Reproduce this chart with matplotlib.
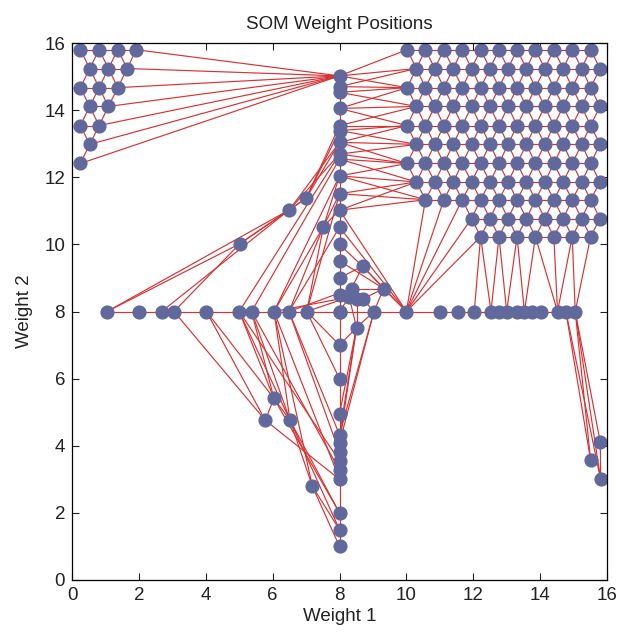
import matplotlib
matplotlib.use("Agg")
import matplotlib.pyplot as plt
import numpy as np

# ---------------- data: SOM weight positions ----------------
# top-left triangular cluster: row y levels and x positions in each row
tri_y = [15.80, 15.24, 14.67, 14.11, 13.54, 12.98, 12.41]
tri_x = [[0.25, 0.81, 1.37, 1.92],
         [0.53, 1.09, 1.65],
         [0.25, 0.81, 1.37],
         [0.53, 1.09],
         [0.25, 0.81],
         [0.53],
         [0.25]]

# top-right hexagonal cluster
grid_y = [15.80, 15.24, 14.67, 14.11, 13.54, 12.98, 12.41, 11.86, 11.33, 10.77, 10.23]
grid_x = [[10.02, 10.57, 11.12, 11.67, 12.22, 12.77, 13.31, 13.86, 14.41, 14.96, 15.51],
          [10.30, 10.85, 11.40, 11.95, 12.50, 13.04, 13.59, 14.14, 14.69, 15.24, 15.79],
          [10.02, 10.57, 11.12, 11.67, 12.22, 12.77, 13.31, 13.86, 14.41, 14.96, 15.51],
          [10.30, 10.85, 11.40, 11.95, 12.50, 13.04, 13.59, 14.14, 14.69, 15.24, 15.79],
          [10.02, 10.57, 11.12, 11.67, 12.22, 12.77, 13.31, 13.86, 14.41, 14.96, 15.51],
          [10.30, 10.85, 11.40, 11.95, 12.50, 13.04, 13.59, 14.14, 14.69, 15.24, 15.79],
          [10.02, 10.57, 11.12, 11.67, 12.22, 12.77, 13.31, 13.86, 14.41, 14.96, 15.51],
          [10.30, 10.85, 11.40, 11.95, 12.50, 13.04, 13.59, 14.14, 14.69, 15.24, 15.79],
          [10.57, 11.12, 11.67, 12.22, 12.77, 13.31, 13.86, 14.41, 14.96, 15.51],
          [11.95, 12.50, 13.04, 13.59, 14.14, 14.69, 15.24, 15.79],
          [12.22, 12.77, 13.31, 13.86, 14.41, 14.96, 15.51]]

# vertical chain at Weight 1 = 8
col8_x = 8.0
col8_y = [15.02, 14.70, 14.53, 14.05, 13.54, 13.39, 13.04, 12.69, 12.54, 12.04,
          11.51, 11.02, 10.51, 10.00, 9.51, 9.00, 8.50, 8.0, 7.0, 6.0,
          4.95, 4.33, 4.08, 3.80, 3.55, 3.27, 3.0, 2.0, 1.5, 1.0]

# horizontal chain at Weight 2 = 8
row8_y = 8.0
row8_x = [1.05, 2.0, 2.68, 3.05, 4.02, 5.0, 5.37, 6.04, 6.49, 7.02, 8.0, 9.03,
          10.0, 11.0, 11.53, 12.03, 12.53, 12.77, 13.0, 13.3, 13.53, 13.77,
          14.04, 14.52, 14.77, 15.05]

# scattered neurons
misc_x = [5.02, 6.50, 7.00, 7.52, 8.69, 8.36, 8.29, 8.51, 8.70, 9.32, 8.51,
          6.04, 5.78, 6.52, 7.19, 15.80, 15.51, 15.81]
misc_y = [10.02, 11.03, 11.37, 10.53, 9.35, 8.68, 8.43, 8.36, 8.38, 8.68, 7.52,
          5.41, 4.76, 4.76, 2.79, 4.10, 3.57, 3.00]

# neighbour links between groups (t=triangle, g=grid, c=col8, r=row8, m=misc)
links = [
    ("t0_3", "c0"), ("t1_2", "c0"), ("t2_2", "c0"), ("t3_1", "c0"),
    ("t4_1", "c0"), ("t5_0", "c0"), ("t6_0", "c0"),
    ("c0", "g0_0"), ("c0", "g1_0"), ("c0", "g2_0"),
    ("c1", "g1_0"), ("c1", "g2_0"), ("c2", "g2_0"), ("c2", "g3_0"),
    ("c3", "g2_0"), ("c3", "g3_0"), ("c3", "g4_0"),
    ("c4", "g3_0"), ("c4", "g4_0"), ("c5", "g4_0"), ("c5", "g5_0"),
    ("c6", "g4_0"), ("c6", "g5_0"), ("c6", "g6_0"),
    ("c7", "g5_0"), ("c7", "g6_0"), ("c8", "g6_0"), ("c8", "g7_0"),
    ("c9", "g6_0"), ("c9", "g7_0"), ("c9", "g8_0"),
    ("c10", "g7_0"), ("c10", "g8_0"),
    ("c11", "g7_0"), ("c11", "g8_0"), ("c11", "r12"), ("c12", "r12"),
    ("r12", "g8_0"), ("r12", "g8_1"), ("r12", "g8_2"), ("r12", "g9_0"), ("r12", "g10_0"),
    ("r12", "m4"), ("r12", "m9"),
    ("g10_0", "r15"), ("g10_0", "r16"), ("g10_1", "r16"), ("g10_1", "r18"),
    ("g10_2", "r18"), ("g10_2", "r20"), ("g10_3", "r20"), ("g10_3", "r23"),
    ("g10_4", "r23"), ("g10_5", "r23"), ("g10_5", "r25"), ("g10_6", "r25"),
    ("r25", "m15"), ("r25", "m16"), ("r24", "m16"), ("r25", "m17"),
    ("r24", "m17"), ("m15", "m17"),
    ("m4", "c15"), ("m4", "m5"), ("m4", "m9"), ("m4", "c13"),
    ("m5", "c16"), ("m5", "m6"), ("m5", "m7"), ("m5", "m9"),
    ("m6", "c16"), ("m6", "r10"), ("m6", "m7"), ("m6", "m10"),
    ("m7", "m8"), ("m7", "m10"), ("m8", "m9"), ("m8", "r11"),
    ("m9", "r11"), ("m9", "c14"),
    ("m10", "r11"), ("m10", "c18"), ("m10", "c21"), ("m10", "c22"), ("m10", "c20"),
    ("r9", "m6"), ("r8", "m5"), ("r7", "m6"),
    ("r0", "m0"), ("r0", "m1"), ("r3", "m0"), ("r2", "m1"),
    ("m0", "m1"), ("m0", "m2"), ("m1", "m2"),
    ("m1", "c6"), ("m1", "c7"), ("m2", "c5"), ("m2", "c6"), ("m2", "c4"),
    ("m3", "c9"), ("m3", "c10"), ("m3", "c11"), ("m3", "r9"), ("m3", "r8"), ("m3", "r7"),
    ("r6", "c8"), ("r7", "c9"), ("r5", "c7"), ("r9", "c10"), ("r8", "c12"),
    ("r3", "m12"), ("r4", "m12"), ("r4", "m11"), ("r5", "m11"), ("r5", "m13"),
    ("r6", "m13"), ("r6", "m11"), ("r7", "m13"), ("r7", "m14"), ("r7", "c26"),
    ("r8", "c23"), ("r8", "c21"), ("r9", "c19"), ("r9", "c18"),
    ("m11", "m12"), ("m11", "m13"), ("m12", "c26"), ("m13", "m14"),
    ("m13", "c27"), ("m13", "c28"), ("m11", "c27"), ("m14", "c29"), ("m14", "c28"),
    ("r5", "c24"), ("r6", "c25"), ("c21", "r11"), ("c22", "r11"),
]

# ---------------- build node table ----------------
nodes = {}
for r, (yy, xs) in enumerate(zip(tri_y, tri_x)):
    for i, xx in enumerate(xs):
        nodes[f"t{r}_{i}"] = (xx, yy)
for r, (yy, xs) in enumerate(zip(grid_y, grid_x)):
    for i, xx in enumerate(xs):
        nodes[f"g{r}_{i}"] = (xx, yy)
for i, yy in enumerate(col8_y):
    nodes[f"c{i}"] = (col8_x, yy)
for i, xx in enumerate(row8_x):
    nodes[f"r{i}"] = (xx, row8_y)
for i, (xx, yy) in enumerate(zip(misc_x, misc_y)):
    nodes[f"m{i}"] = (xx, yy)

seg_xy = []
# hexagonal neighbour links inside the two regular clusters
for prefix in ("t", "g"):
    keys = [k for k in nodes if k[0] == prefix]
    pts = np.array([nodes[k] for k in keys])
    for a in range(len(pts)):
        for b in range(a + 1, len(pts)):
            if np.hypot(*(pts[a] - pts[b])) < 0.7:
                seg_xy.append((nodes[keys[a]], nodes[keys[b]]))
# chains
for i in range(len(col8_y) - 1):
    seg_xy.append((nodes[f"c{i}"], nodes[f"c{i+1}"]))
for i in range(len(row8_x) - 1):
    seg_xy.append((nodes[f"r{i}"], nodes[f"r{i+1}"]))
for a, b in links:
    seg_xy.append((nodes[a], nodes[b]))

# ---------------- draw ----------------
plt.rcParams["font.family"] = ["Liberation Sans", "DejaVu Sans"]
fig = plt.figure(figsize=(6.19, 6.35), dpi=100)
ax = fig.add_axes([72 / 619, 1 - 580 / 635, (607 - 72) / 619, (580 - 43) / 635])

for (x1, y1), (x2, y2) in seg_xy:
    ax.plot([x1, x2], [y1, y2], color="#d83232", lw=0.85, zorder=1)

allx = [p[0] for p in nodes.values()]
ally = [p[1] for p in nodes.values()]
ax.plot(allx, ally, "o", ms=9.2, color="#61689c", mec="#61689c", zorder=2)

ax.set_xlim(0, 16)
ax.set_ylim(0, 16)
ax.set_xticks(np.arange(0, 17, 2))
ax.set_yticks(np.arange(0, 17, 2))
ax.tick_params(direction="in", top=True, right=True, length=5, width=0.8,
               labelsize=13.5, pad=5, colors="#222222")
for s in ax.spines.values():
    s.set_linewidth(0.9)
ax.set_title("SOM Weight Positions", fontsize=13.5, pad=10, color="#222222")
ax.set_xlabel("Weight 1", fontsize=13.5, labelpad=3, color="#222222")
ax.set_ylabel("Weight 2", fontsize=13.5, labelpad=8, color="#222222")

fig.savefig("out.png", dpi=100)
